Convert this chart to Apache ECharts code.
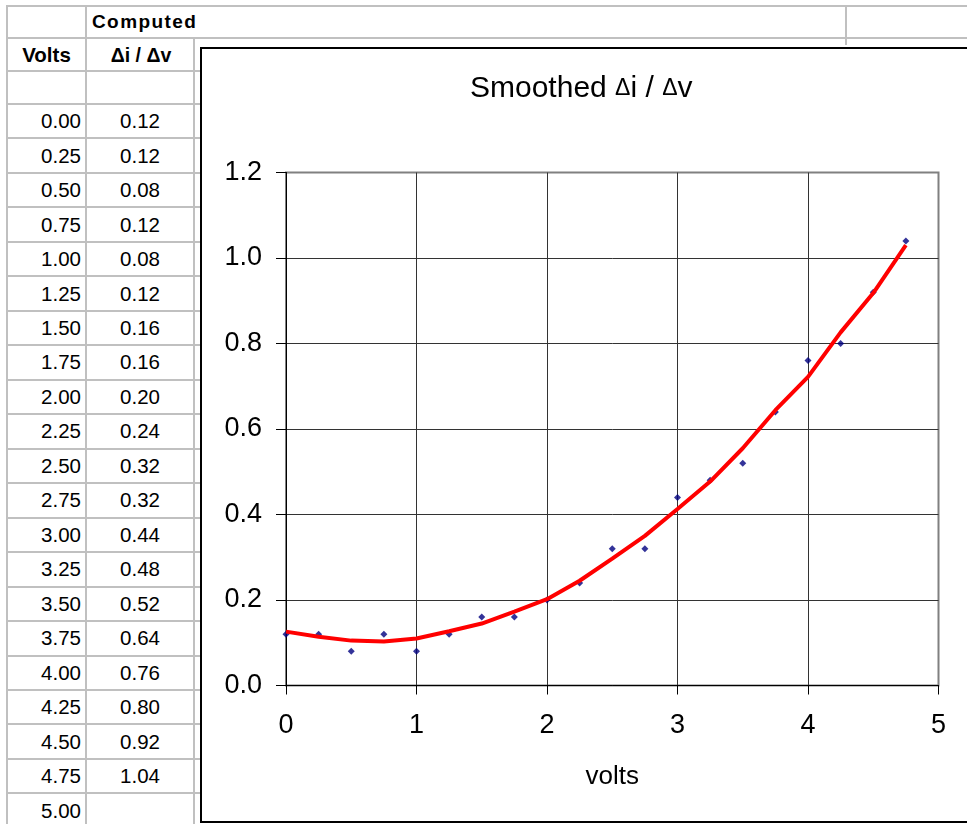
<!DOCTYPE html>
<html><head><meta charset="utf-8">
<script src="https://cdn.jsdelivr.net/npm/echarts@6/dist/echarts.min.js"></script>
<style>
html,body{margin:0;padding:0;width:967px;height:824px;overflow:hidden;background:#fff;font-family:"Liberation Sans",Arial,sans-serif;}
#sheet{position:absolute;left:0;top:0;width:967px;height:824px;}
.hl{position:absolute;height:2px;background:#c0c0c0;}
.vl{position:absolute;width:2px;background:#c0c0c0;}
.cell{position:absolute;font-size:20.5px;color:#000;line-height:24px;height:24px;white-space:nowrap;}
#chart{position:absolute;left:200px;top:47px;width:800px;height:772px;border:2px solid #000;background:#fff;}
</style></head>
<body>
<div id="sheet"></div>
<div id="chart"></div>
<script>
// ---- data ----
const tableVolts = ["0.00","0.25","0.50","0.75","1.00","1.25","1.50","1.75","2.00","2.25","2.50","2.75","3.00","3.25","3.50","3.75","4.00","4.25","4.50","4.75","5.00"];
const voltValues = [0,0.25,0.5,0.75,1,1.25,1.5,1.75,2,2.25,2.5,2.75,3,3.25,3.5,3.75,4,4.25,4.5,4.75];
const computedDidv = [0.12,0.12,0.08,0.12,0.08,0.12,0.16,0.16,0.20,0.24,0.32,0.32,0.44,0.48,0.52,0.64,0.76,0.80,0.92,1.04];
const smoothedDidv = [0.126,0.114,0.105,0.103,0.110,0.127,0.145,0.173,0.202,0.245,0.297,0.350,0.413,0.477,0.555,0.644,0.722,0.826,0.918,1.030];
const headerTop = "Computed";
const headerVolts = "Volts";
const headerDidv = "\u0394i / \u0394v";
const chartTitleParts = ["Smoothed ", "\u0394", "i / ", "\u0394", "v"];
const xAxisName = "volts";

// ---- spreadsheet background ----
const sheet = document.getElementById('sheet');
function add(cls, css, text){
  const d = document.createElement('div'); d.className = cls;
  Object.assign(d.style, css); if (text !== undefined) d.textContent = text;
  sheet.appendChild(d); return d;
}
const rowLines = [6, 38, 71];
for (let k = 0; k <= tableVolts.length; k++) rowLines.push(104 + 34.47 * k);
rowLines.forEach(y => add('hl', {left:'7px', width:'960px', top:(y-1)+'px'}));
add('vl', {left:'6px', top:'5px', height:'830px'});
add('vl', {left:'85px', top:'5px', height:'830px'});
add('vl', {left:'193px', top:'37px', height:'800px'});
add('vl', {left:'845px', top:'5px', height:'40px'});
add('cell', {left:'92px', top:(22-12)+'px', fontWeight:'bold', fontSize:'19px', letterSpacing:'1.4px'}, headerTop);
add('cell', {left:'7px', width:'79px', textAlign:'center', top:(55-12)+'px', fontWeight:'bold', fontSize:'20.5px'}, headerVolts);
add('cell', {left:'87px', width:'108px', textAlign:'center', top:(55-12)+'px', fontWeight:'bold', fontSize:'19.5px'}, headerDidv);
tableVolts.forEach((v, k) => {
  const mid = 104 + 34.47 * k + 17.2;
  add('cell', {left:'7px', width:'74px', textAlign:'right', top:(mid-12)+'px'}, v);
  if (k < computedDidv.length)
    add('cell', {left:'86px', width:'108px', textAlign:'center', top:(mid-12)+'px'}, computedDidv[k].toFixed(2));
});

// ---- chart ----
const chart = echarts.init(document.getElementById('chart'), null, {renderer:'canvas'});
const FF = '"Liberation Sans", Arial, sans-serif';
const keys = ['a','d','a','d','a'];
const option = {
  animation: false,
  backgroundColor: '#fff',
  title: {
    text: chartTitleParts.map((p, i) => '{' + keys[i] + '|' + p + '}').join(''),
    left: 268, top: 25, padding: 0,
    textStyle: { fontWeight: 'normal', rich: {
      a: {fontSize: 30, fontFamily: FF, fontWeight: 'normal', color: '#000'},
      d: {fontSize: 23, fontFamily: FF, fontWeight: 'normal', color: '#000'}
    } }
  },
  grid: {left: 84, top: 123.5, width: 652.5, height: 513, show: true, borderColor: '#808080', borderWidth: 2},
  xAxis: {
    type: 'value', min: 0, max: 5, interval: 1,
    axisLine: {show: true, lineStyle: {color: '#000', width: 1}},
    axisTick: {show: true, length: 9, lineStyle: {color: '#000'}},
    axisLabel: {fontSize: 27, fontFamily: FF, color: '#000', margin: 27},
    splitLine: {show: true, showMaxLine: false, lineStyle: {color: '#333', width: 1}},
    name: xAxisName, nameLocation: 'middle', nameGap: 78,
    nameTextStyle: {fontSize: 26, fontFamily: FF, color: '#000'}
  },
  yAxis: {
    type: 'value', min: 0, max: 1.2, interval: 0.2,
    axisLine: {show: true, lineStyle: {color: '#000', width: 1}},
    axisTick: {show: true, length: 10, lineStyle: {color: '#000'}},
    axisLabel: {fontSize: 27, fontFamily: FF, color: '#000', margin: 24, formatter: v => v.toFixed(1)},
    splitLine: {show: true, showMaxLine: false, lineStyle: {color: '#333', width: 1}}
  },
  series: [
    {
      type: 'scatter', name: 'computed', z: 2,
      data: voltValues.map((v, i) => [v, computedDidv[i]]),
      symbol: 'diamond', symbolSize: 7,
      itemStyle: {color: '#000080'}
    },
    {
      type: 'line', name: 'smoothed', z: 3,
      data: voltValues.map((v, i) => [v, smoothedDidv[i]]),
      showSymbol: false, smooth: false,
      lineStyle: {color: '#ff0000', width: 4}
    }
  ]
};
chart.setOption(option);
</script>
</body></html>
